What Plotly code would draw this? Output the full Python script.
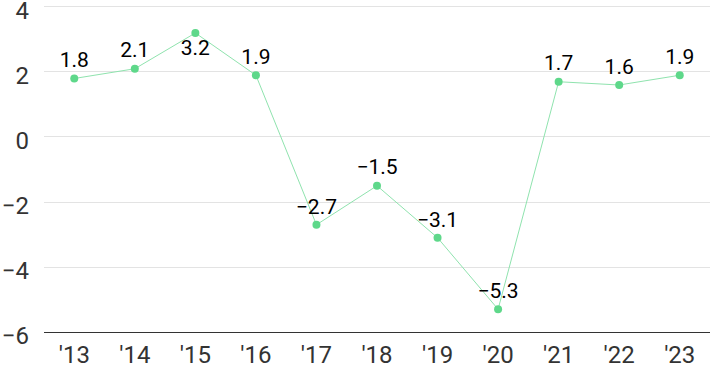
import plotly.graph_objects as go

years = ["'13", "'14", "'15", "'16", "'17", "'18", "'19", "'20", "'21", "'22", "'23"]
values = [1.8, 2.1, 3.2, 1.9, -2.7, -1.5, -3.1, -5.3, 1.7, 1.6, 1.9]
label_pos = ["top center"] * 11
label_pos[2] = "bottom center"
y_ticks = [-6, -4, -2, 0, 2, 4]
y_tick_text = ["\u22126", "\u22124", "\u22122", "0", "2", "4"]

fig = go.Figure(go.Scatter(
    x=list(range(len(years))), y=values,
    mode="lines+markers+text",
    line=dict(color="#8fe3ae", width=1),
    marker=dict(color="#5ed88a", size=8),
    text=[f"{v}".replace("-", "\u2212") for v in values],
    textposition=label_pos,
    textfont=dict(family="Roboto", size=21, color="#000"),
    cliponaxis=False,
))
fig.update_layout(
    width=710, height=371,
    margin=dict(l=44, r=0, t=0, b=39, autoexpand=False),
    plot_bgcolor="white", paper_bgcolor="white",
    showlegend=False,
    font=dict(family="Roboto", size=24, color="#333"),
)
fig.update_xaxes(
    range=[-0.5, 10.5], tickmode="array",
    tickvals=list(range(len(years))), ticktext=years,
    showgrid=False, showline=True, linecolor="#333", linewidth=1,
    ticks="", zeroline=False, automargin=False, ticklabeloverflow="allow",
    ticklabelstandoff=1,
)
fig.update_yaxes(
    range=[-6, 4.215], tickmode="array", tickvals=y_ticks, ticktext=y_tick_text,
    showgrid=True, gridcolor="#e3e3e3", gridwidth=1, zeroline=False,
    ticks="", ticklabelstandoff=14, automargin=False, ticklabeloverflow="allow",
    ticklabelshift=4,
)
fig.write_html("out.html", post_script="document.body.style.margin='0';",
               config={"displayModeBar": False})
